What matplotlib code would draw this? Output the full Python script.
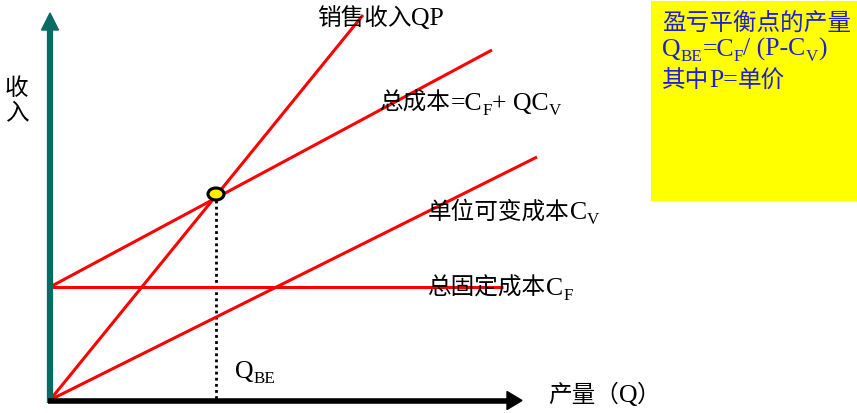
import matplotlib
matplotlib.use("Agg")
import matplotlib.pyplot as plt
from matplotlib.transforms import Affine2D
from matplotlib.patches import Polygon, Rectangle, Ellipse

W, H = 857, 414
DPI = 100

# ---- data (units: output quantity Q, money) ----
sales_q = [0, 313]
sales_v = [0, 385]
total_q = [0, 442]
total_v = [113, 350]
var_q = [0, 487]
var_v = [0, 243]
fixed_q = [0, 453]
fixed_v = [113, 113]
be_q = 166
be_v = 206

FAM = ['Liberation Serif', 'Noto Sans CJK SC']
plt.rcParams['font.family'] = FAM

fig = plt.figure(figsize=(W / DPI, H / DPI), dpi=DPI)
ax = fig.add_axes([0, 0, 1, 1])
ax.set_xlim(-50, W - 50)
ax.set_ylim(-(H - 401), 401)
ax.axis('off')

RED = '#ff0000'
TEAL = '#0a6b66'

# lines
ax.plot(sales_q, sales_v, color=RED, lw=2.2, solid_capstyle='butt', zorder=3)
ax.plot(total_q, total_v, color=RED, lw=2.2, solid_capstyle='butt', zorder=3)
ax.plot(var_q, var_v, color=RED, lw=2.2, solid_capstyle='butt', zorder=3)
ax.plot(fixed_q, fixed_v, color=RED, lw=2.2, solid_capstyle='butt', zorder=3)

# dotted drop line and break-even point
ax.plot([be_q, be_q], [be_v, 0], color='black', lw=2.0, ls=(0, (1, 1.2)), zorder=2)
ax.add_patch(Ellipse((be_q, be_v), 16, 12, facecolor='#ffee00', edgecolor='black', lw=2.2, zorder=5))

# axes arrows (decoration)
ax.plot([0, 0], [-3, 370], color=TEAL, lw=4.5, solid_capstyle='butt', zorder=4)
ax.add_patch(Polygon([[-8.5, 370], [8.5, 370], [0, 387]], closed=True, color=TEAL, zorder=4))
ax.plot([-2, 458], [-0.5, -0.5], color='black', lw=4.0, solid_capstyle='butt', zorder=4)
ax.add_patch(Polygon([[457, 8.5], [457, -9.5], [472, -0.5]], closed=True, color='black', zorder=4))

# pixel transform (top-left origin)
T = Affine2D().scale(1, -1).translate(0, H)

fig.canvas.draw()
renderer = fig.canvas.get_renderer()

CJK_SIZE = 17
LAT_SIZE = 18.5


def rich(x, y, parts, color='black'):
    for s, kind in parts:
        if kind == 's':
            fs = LAT_SIZE * 0.66
            yy = y + LAT_SIZE * DPI / 72.0 * 0.2
            fam = 'Liberation Serif'
        elif kind == 'l':
            fs = LAT_SIZE
            yy = y
            fam = 'Liberation Serif'
        else:
            fs = CJK_SIZE
            yy = y
            fam = 'Noto Sans CJK SC'
        t = fig.text(x, yy, s, transform=T, fontsize=fs, color=color,
                     ha='left', va='baseline', family=fam, zorder=6)
        bb = t.get_window_extent(renderer)
        x += bb.width


# yellow note box
fig.patches.append(Rectangle((651, 202), 206, -200, transform=T, facecolor='#ffff00',
                             edgecolor='none', zorder=1))
BLUE = '#1f1fd6'
rich(662, 30, [('盈亏平衡点的产量', 'c')], BLUE)
rich(662, 56, [('Q', 'l'), ('BE', 's'), ('=C', 'l'), ('F', 's'), ('/ (P-C', 'l'), ('V', 's'), (')', 'l')], BLUE)
rich(662, 87, [('其中', 'c'), ('P=', 'l'), ('单价', 'c')], BLUE)

# labels
rich(317, 25, [('销售收入', 'c'), ('QP', 'l')])
rich(380, 110, [('总成本', 'c'), ('=C', 'l'), ('F', 's'), ('+ QC', 'l'), ('V', 's')])
rich(428, 219, [('单位可变成本', 'c'), ('C', 'l'), ('V', 's')])
rich(428, 295, [('总固定成本', 'c'), ('C', 'l'), ('F', 's')])
rich(235, 378, [('Q', 'l'), ('BE', 's')])
rich(548, 402, [('产量（', 'c'), ('Q', 'l'), ('）', 'c')])
rich(5, 95, [('收', 'c')])
rich(5, 120, [('入', 'c')])

fig.savefig('out.png', dpi=DPI)
